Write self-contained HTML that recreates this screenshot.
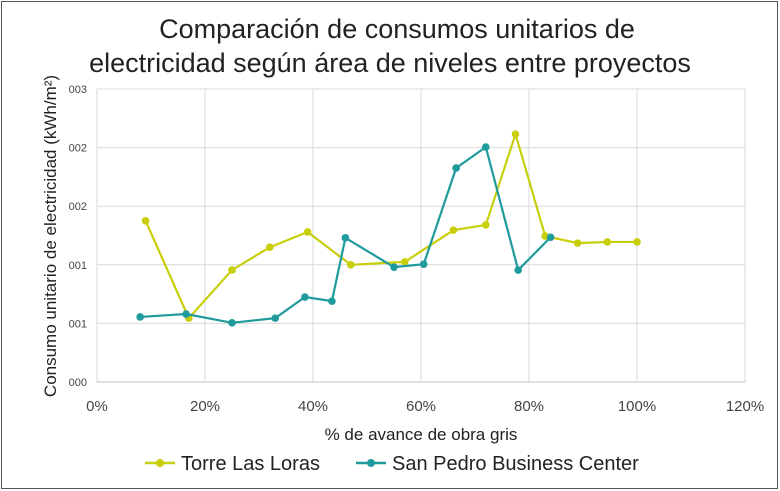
<!DOCTYPE html>
<html><head><meta charset="utf-8">
<style>
body{margin:0;background:#fff;}
#wrap{position:relative;width:780px;height:491px;overflow:hidden;font-family:"Liberation Sans",sans-serif;}
</style></head>
<body>
<div id="wrap">
<svg id="chart" width="780" height="491" xmlns="http://www.w3.org/2000/svg">
<rect x="1.5" y="1.5" width="776" height="487" fill="#fff" stroke="#555" stroke-width="1"/>
<text x="397" y="38" text-anchor="middle" font-size="27" fill="#222">Comparación de consumos unitarios de</text>
<text x="390" y="72" text-anchor="middle" font-size="27" fill="#222">electricidad según área de niveles entre proyectos</text>
<g id="grid"></g><g id="axes"></g><g id="series"></g>
<text x="421" y="440" text-anchor="middle" font-size="17" fill="#222">% de avance de obra gris</text>
<text transform="translate(56,236) rotate(-90)" text-anchor="middle" font-size="17" fill="#222">Consumo unitario de electricidad (kWh/m²)</text>
<g>
<g><line x1="145" y1="463" x2="175" y2="463" stroke="#c8cf0a" stroke-width="2.5"/><circle cx="160" cy="463" r="4" fill="#c8cf0a"/><text x="181" y="470" font-size="20" fill="#222">Torre Las Loras</text></g>
<g><line x1="356" y1="463" x2="386" y2="463" stroke="#1f9a9d" stroke-width="2.5"/><circle cx="371" cy="463" r="4" fill="#1f9a9d"/><text x="392" y="470" font-size="20" fill="#222">San Pedro Business Center</text></g>
</g>
</svg>
</div>
<script>
const xTicks=[0,20,40,60,80,100,120];
const xTickLabels=["0%","20%","40%","60%","80%","100%","120%"];
const yTicks=[0,1,2,3,4,5];
const yTickLabels=["000","001","001","002","002","003"];
const torreX=[9,17,25,32,39,47,57,66,72,77.5,83,89,94.5,100];
const torreY=[2.75,1.09,1.91,2.30,2.56,2.0,2.05,2.59,2.68,4.23,2.49,2.37,2.39,2.39];
const sanPedroX=[8,16.5,25,33,38.5,43.5,46,55,60.5,66.5,72,78,84];
const sanPedroY=[1.11,1.16,1.01,1.09,1.45,1.38,2.46,1.96,2.01,3.65,4.01,1.91,2.47];
const NS="http://www.w3.org/2000/svg";
const X0=97,X1=745,Y0=382,Y1=89;
function sx(v){return X0+(v-0)/120*(X1-X0);}
function sy(v){return Y0-(v-0)/5*(Y0-Y1);}
function mk(tag,attrs,parent){const e=document.createElementNS(NS,tag);for(const k in attrs)e.setAttribute(k,attrs[k]);parent.appendChild(e);return e;}
const grid=document.getElementById('grid'),axes=document.getElementById('axes'),ser=document.getElementById('series');
xTicks.forEach((t,i)=>{
 const l=mk('line',{x1:sx(t),x2:sx(t),y1:Y1,y2:Y0,stroke:'#d9d9d9','stroke-width':1},grid);
 
 
 const tx=mk('text',{x:sx(t),y:Y0+29,'text-anchor':'middle','font-size':15,fill:'#444'},axes);
 tx.textContent=xTickLabels[i];
 
 
});
yTicks.forEach((t,i)=>{
 const l=mk('line',{x1:X0,x2:X1,y1:sy(t),y2:sy(t),stroke:t===0?'#bfbfbf':'#d9d9d9','stroke-width':1},grid);
 
 
 const tx=mk('text',{x:X0-10,y:sy(t)+4,'text-anchor':'end','font-size':11,fill:'#444'},axes);
 tx.textContent=yTickLabels[i];
 
 
});
function drawSeries(xs,ys,color,name){
 const g=mk('g',{},ser);
 
 
 const pts=xs.map((x,i)=>sx(x)+','+sy(ys[i])).join(' ');
 const p=mk('polyline',{points:pts,fill:'none',stroke:color,'stroke-width':2.2},g);
 
 
 xs.forEach((x,i)=>{
  const c=mk('circle',{cx:sx(x),cy:sy(ys[i]),r:3.8,fill:color},g);
  
  
 });
}
drawSeries(torreX,torreY,'#c8cf0a','torre-las-loras');
drawSeries(sanPedroX,sanPedroY,'#1f9a9d','san-pedro-business-center');
</script>
</body></html>
